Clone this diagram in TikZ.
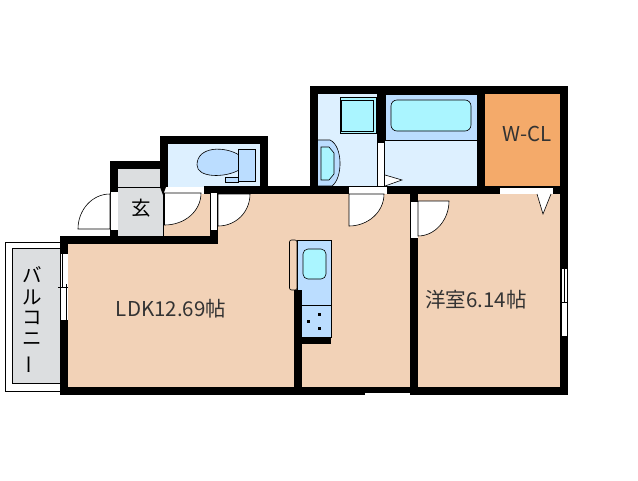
\documentclass[tikz,border=0pt]{standalone}
\usepackage{fontspec}
\setmainfont{Noto Sans CJK JP}
\definecolor{roomc}{HTML}{F2D2B7}
\definecolor{palec}{HTML}{DDF0FF}
\definecolor{bluec}{HTML}{BBDDFF}
\definecolor{cyanc}{HTML}{AAF5FF}
\definecolor{orangec}{HTML}{F4AA6A}
\definecolor{grayc}{HTML}{DCDEE0}
\tikzset{
wall/.style={fill=black},
gap/.style={fill=white},
leaf/.style={draw=black,fill=white,line width=.6pt},
fix/.style={draw=black,line width=.6pt},
roomname/.style={inner sep=0pt,text=black!80,font=\fontsize{20.5}{20.5}\selectfont},
kana/.style={inner sep=0pt,text=black,font=\fontsize{19.5}{19.5}\selectfont},
}
\begin{document}
\begin{tikzpicture}[x=1pt,y=-1pt]
\useasboundingbox (0,0) rectangle (638,480);
\fill[white] (0,0) rectangle (638,480);

\fill[roomc] (218,194) -- (410,194) -- (410,387) -- (68,387) -- (68,240) -- (218,240) -- cycle;
\fill[roomc] (164,194) rectangle (210,236);
\fill[roomc] (418,194) rectangle (560,387);
\fill[palec] (168,144) rectangle (260,187);
\fill[palec] (318,94) rectangle (477,186);
\fill[orangec] (485,94) rectangle (560,186);
\fill[grayc] (118,169) rectangle (163,236);

\draw[fix,fill=bluec] (385,94) rectangle (477,140);
\draw[fix,fill=cyanc,rounded corners=6pt] (391,100) rectangle (471,131);
\draw[fix,fill=cyanc] (340,97) rectangle (376,133);
\draw[fix] (341.5,100) rectangle (373,131);
\draw[fix,fill=bluec] (318,140) -- (330,140) .. controls (343,146) and (343,178) .. (332,186) -- (318,186);
\draw[fix,fill=cyanc] (321,147) -- (329,147) -- (334,153) -- (334,174) -- (329,180) -- (321,180) -- cycle;
\draw[fix,fill=bluec] (197,165) .. controls (197,146) and (225,146) .. (239,155) -- (239,170) .. controls (225,178) and (197,178) .. (197,165) -- cycle;
\draw[fix,fill=bluec] (238,149) rectangle (255,181);
\draw[fix,fill=bluec] (225,177) rectangle (238,182);

\draw[fix,rounded corners=2pt] (289.5,240) rectangle (297,290);
\draw[fix,fill=bluec] (297,240) rectangle (331,337);
\draw[fix] (297,305) -- (331,305);
\draw[fix,fill=cyanc,rounded corners=5pt] (303,249) rectangle (326,279);
\fill[black] (318,313) rectangle (320.5,315.5);
\fill[black] (307,320) rectangle (309.5,322.5);
\fill[black] (318,327) rectangle (320.5,329.5);

\draw[line width=.7pt,fill=white] (5.5,242) rectangle (60,391);
\draw[line width=.7pt,fill=grayc] (12.5,248.5) rectangle (60,383.5);

\fill[wall] (310,86) rectangle (568,94);
\fill[wall] (310,86) rectangle (318,194);
\fill[wall] (377,86) rectangle (385,186);
\fill[wall] (477,86) rectangle (485,194);
\fill[wall] (560,86) rectangle (568,395);
\fill[wall] (160,136) rectangle (268,144);
\fill[wall] (160,136) rectangle (168,187);
\fill[wall] (260,136) rectangle (268,194);
\fill[wall] (110,161) rectangle (168,169);
\fill[wall] (110,161) rectangle (118,236);
\fill[wall] (204,186) rectangle (568,194);
\fill[wall] (60,236) rectangle (218,244);
\fill[wall] (60,236) rectangle (68,395);
\fill[wall] (210,186) rectangle (218,244);
\fill[wall] (60,387) rectangle (568,395);
\fill[wall] (410,186) rectangle (418,395);
\fill[wall] (294,290) rectangle (302,387);
\fill[wall] (294,337) rectangle (331,344);
\fill[wall] (160,187) -- (166,187) -- (163,195) -- cycle;

\draw[line width=.6pt] (118,187) -- (163,187) -- (163,236);

\fill[gap] (378,143) rectangle (384,186);
\fill[gap] (349,186.5) rectangle (387,193.5);
\fill[gap] (166,187.5) rectangle (204,192.5);
\fill[gap] (111,192) rectangle (118,230);
\fill[gap] (211,193) rectangle (217,230);
\fill[gap] (411,202) rectangle (418,238);
\fill[gap] (500,187.5) rectangle (553,193.5);
\fill[gap] (365,393) rectangle (410,395);

\draw[leaf] (110,229) -- (110,194) .. controls (92,194) and (78,210) .. (78,229) -- cycle;
\draw[leaf] (164.5,193) -- (201,193) .. controls (201,211) and (185,225) .. (164.5,225) -- cycle;
\draw[leaf] (218,194) -- (250,194) .. controls (250,212) and (236,226) .. (218,226) -- cycle;
\draw[leaf] (349,194) -- (384,194) .. controls (384,212) and (368,226) .. (349,226) -- cycle;
\draw[leaf] (418,201) -- (449,201) .. controls (449,220) and (435,236) .. (418,236) -- cycle;
\draw[leaf] (385,175) -- (402,180) -- (385,186);
\draw[leaf] (537,194) -- (543,214) -- (551,194);

\fill[gap] (60.5,253) rectangle (68,320);
\draw[line width=.5pt] (60.5,253) -- (68,253);
\draw[line width=.5pt] (62,253) -- (62,287);
\draw[line width=.5pt] (66,284) -- (66,320);
\draw[line width=.5pt] (58,287) -- (68,287);
\fill[gap] (561,269) rectangle (568,336);
\draw[line width=.5pt] (561,269) -- (561,336);
\draw[line width=.5pt] (564,269) -- (564,303);
\draw[line width=.5pt] (567,269) -- (567,336);
\draw[line width=.5pt] (561,302) -- (568,302);

\node[roomname] (ldk) at (171,309) {LDK12.69帖};
\node[roomname] (yoshitsu) at (476,300) {洋室6.14帖};
\node[roomname] (wcl) at (527,134) {W-CL};
\node[kana] (genkan) at (141,208) {玄};
\node[kana] (ba) at (32,275) {バ};
\node[kana] (ru) at (32,297) {ル};
\node[kana] (ko) at (32,318) {コ};
\node[kana] (ni) at (32,339) {ニ};
\node[kana,rotate=90] (bar) at (32,365) {ー};
\end{tikzpicture}
\end{document}
